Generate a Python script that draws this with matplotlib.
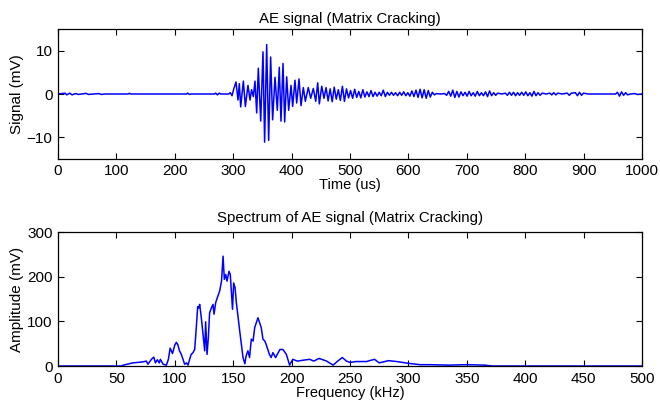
import numpy as np
import matplotlib.pyplot as plt

plt.rcParams['font.family'] = ['Liberation Sans', 'DejaVu Sans']

# AE signal, time in us, signal in mV (peaks)
sig_t = [0, 12, 15, 20, 24, 30, 35, 48, 52, 70, 74, 80, 120, 122, 125, 220, 222, 225, 228,
         268, 270, 273, 276, 279, 292, 295, 298,
         301, 304.8, 308.2, 310.5, 312.8, 317.4, 320.8, 325.3, 328.8, 331.5, 334.5, 337.3,
         340.2, 343, 347.1, 351, 353.8, 357.3, 360.7, 364.1, 367.5, 371.6, 375.5, 378.9,
         381.8, 385.3, 388.1, 391.6, 395, 399, 401.8, 405.8, 408.7, 412.7, 416.1, 420.1,
         423.5, 428.6, 432.7, 437.2, 441.3, 444.7, 447.5, 451.6, 455.5,
         459, 462.5, 466, 469.5, 473, 476.5, 480, 483.5, 487, 490.5, 494, 497.5, 501, 504.5,
         508, 511.5, 515, 518.5, 522, 525.5, 529, 532.5, 536, 539.5, 543, 546.5, 550, 553.5,
         557, 560.5, 564, 567.5, 571, 574.5, 578, 581.5, 585, 588.5, 592, 595.5, 599, 602.5,
         606, 609.5, 613, 616.5, 620, 623.5, 627, 630.5, 634, 637.5, 641, 644.5, 648, 655,
         662, 665.5, 669, 672.5, 676, 679.5, 683, 686.5, 690, 693.5, 697, 700.5, 704, 707.5,
         711, 714.5, 718, 721.5, 725, 728.5, 732, 735.5, 739, 742.5, 746, 749.5, 753, 760,
         766, 769.5, 773, 776.5, 780, 783.5, 787, 790.5, 794, 797.5, 801, 804.5, 808, 811.5,
         815, 818.5, 822, 825.5, 829, 836, 842, 845.5, 849, 852.5, 856, 863, 872, 875.5, 879,
         886, 889.5, 893, 896.5, 900, 908, 955, 958, 961.5, 965, 968.5, 972, 975.5, 980, 988,
         992, 1000]
sig_mv = [0, 0.2, -0.2, 0.2, -0.2, 0.1, -0.1, 0.15, -0.1, 0.1, -0.1, 0, 0, 0.15, 0, 0, 0.2, -0.1, 0,
          0, 0.2, -0.2, 0.2, 0, 0, 0.3, -0.4,
          1.2, 2.8, -1.4, 2.4, -3.0, 3.0, -2.9, 2.0, -1.4, 1.0, -0.6, 3.0,
          -4.4, 6.0, -6.3, 9.8, -11.2, 11.5, -10.8, 8.6, -6.0, 3.9, -3.8, 6.2,
          -6.3, 7.1, -6.5, 4.0, -3.8, 2.0, -2.9, 3.2, -2.1, 3.5, -2.7, 1.5,
          -1.7, 1.5, -1.0, 1.3, -1.7, 2.6, -2.3, 1.8, -1.0,
          1.5, -1.6, 1.2, -1.8, 1.6, -1.2, 1.0, -1.5, 1.8, -1.7, 1.2, -0.9, 0.8, -1.0,
          1.1, -0.8, 0.6, -0.9, 1.0, -0.7, 0.5, -0.6, 0.8, -0.6, 0.4, -0.5, 0.4, -0.4,
          0.9, -0.6, 0.4, -0.3, 0.4, -0.3, 0.3, -0.4, 0.4, -0.3, 0.5, -0.4, 0.3, -0.5,
          0.7, -0.6, 0.9, -0.8, 1.1, -0.9, 1.0, -1.0, 0.8, -0.7, 0.4, -0.2, 0.1, 0,
          0.1, -0.3, 0.6, -0.5, 0.9, -0.8, 0.6, -0.7, 0.5, -0.4, 0.4, -0.5, 0.6, -0.4,
          0.3, -0.5, 0.6, -0.4, 0.3, -0.4, 0.5, -0.6, 0.7, -0.4, 0.3, -0.3, 0.2, 0,
          0.2, -0.3, 0.4, -0.3, 0.4, -0.4, 0.3, -0.3, 0.4, -0.3, 0.5, -0.4, 0.3, -0.5,
          0.6, -0.4, 0.3, -0.3, 0.2, 0, 0.2, -0.2, 0.3, -0.2, 0.2, 0, 0.2, -0.3, 0.2,
          0.3, -0.4, 0.4, -0.3, 0.2, 0, 0, 0.4, -0.5, 0.5, -0.3, 0.3, -0.2, 0, 0.1,
          -0.1, 0]

# spectrum, frequency in kHz, amplitude in mV
spec_f = [0, 54, 56, 64, 72, 75.6, 77, 80, 82, 83.4, 85, 86.7, 87.6, 90, 92.8, 94.5, 96, 98,
          100, 101.3, 102.7, 104, 105.6, 107, 108.4, 110, 111.3, 112.7, 114, 115.6, 117,
          118.4, 119.6, 120.5, 121.3, 122.7, 124, 125.6, 126.4, 127.6, 128.7, 129.8, 131.3,
          132.7, 133.6, 135, 136.4, 138.4, 140, 141.3, 142.4, 143.6, 144.7, 146.4, 147.5,
          149.4, 150.4, 151.6, 152.7, 155.6, 158.4, 160, 161, 162.6, 164, 165.5, 167, 168.4,
          169.8, 171.2, 172.6, 174, 175.5, 177, 178, 181, 182.5, 184, 186.3, 190, 192.6,
          195.5, 198.3, 201, 205, 209.8, 215.5, 219, 223.5, 230, 235.5, 239.5, 243.4, 247,
          250, 255, 264, 271, 275, 283, 290, 300, 310, 318, 335, 350, 365, 372, 500]
spec_mv = [0, 0, 2, 7, 9, 11, 4, 15, 20, 7, 14, 7, 15, 4, 2, 15, 40, 28,
           47, 53, 47, 34, 26, 15, 4, 7, 2, 15, 26, 30, 37,
           86, 133, 130, 138, 108, 75, 34, 99, 26, 63, 119, 130,
           138, 116, 142, 153, 168, 190, 246, 194, 205, 190, 212, 205,
           127, 186, 175, 142, 78, 19, 5, 22, 34, 19, 60, 56, 86,
           97, 108, 97, 86, 60, 56, 50, 26, 19, 30, 19, 37, 37,
           26, 2, 15, 11, 13, 15, 11, 17, 11, 2, 11, 19, 11,
           8, 10, 10, 15, 7, 12, 10, 6, 3, 3, 2, 3, 2, 0, 0]

fig = plt.figure(figsize=(6.6, 4.08), dpi=100)
ax1 = fig.add_axes([0.0879, 0.6115, 0.8848, 0.3162])
ax2 = fig.add_axes([0.0879, 0.1029, 0.8848, 0.3284])

fs = 11
for ax in (ax1, ax2):
    ax.tick_params(direction='in', top=True, right=True, labelsize=fs, length=4, pad=4)
    for s in ax.spines.values():
        s.set_linewidth(0.9)

ax1.plot(sig_t, sig_mv, color='#0000ff', lw=1.1)
ax1.set_xlim(0, 1000)
ax1.set_ylim(-15, 15)
ax1.set_xticks(np.arange(0, 1001, 100))
ax1.set_yticks([-10, 0, 10])
ax1.set_title('AE signal (Matrix Cracking)', fontsize=10.8, pad=5)
ax1.set_xlabel('Time (us)', fontsize=10.5, labelpad=0)
ax1.set_ylabel('Signal (mV)', fontsize=11, labelpad=2)

ax2.plot(spec_f, spec_mv, color='#0000ff', lw=1.1)
ax2.set_xlim(0, 500)
ax2.set_ylim(0, 300)
ax2.set_xticks(np.arange(0, 501, 50))
ax2.set_yticks([0, 100, 200, 300])
ax2.set_title('Spectrum of AE signal (Matrix Cracking)', fontsize=10.8, pad=7)
ax2.set_xlabel('Frequency (kHz)', fontsize=10.5, labelpad=0)
ax2.set_ylabel('Amplitude (mV)', fontsize=11, labelpad=2)

fig.savefig('out.png', dpi=100)
